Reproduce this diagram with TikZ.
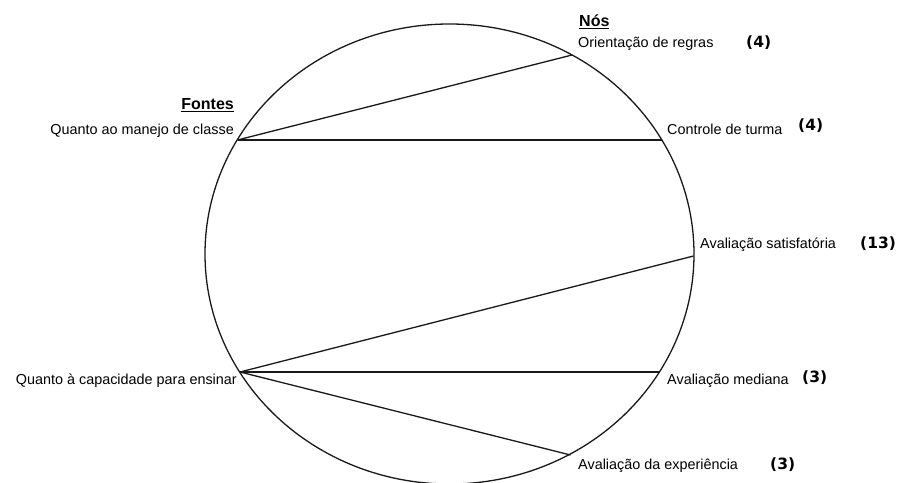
\documentclass[tikz,border=0pt]{standalone}
\usepackage{fontspec}
\setmainfont{Liberation Sans}
\newfontfamily\numfont{DejaVu Sans}
\begin{document}
\begin{tikzpicture}[x=1pt,y=-1pt,
  edge/.style={line width=1.3pt, draw=black!90},
  lbl/.style={inner sep=0pt, font=\fontsize{14.4}{17}\selectfont},
  head/.style={inner sep=0pt, font=\fontsize{16}{19}\selectfont\bfseries},
  cnt/.style={inner sep=0pt, font=\fontsize{15.5}{18}\selectfont\numfont\bfseries}]
\useasboundingbox (0,0) rectangle (904,482);
\begin{scope}
\clip (0,0) rectangle (904,482);
\draw[edge] (449.5,254) ellipse [x radius=244.5pt, y radius=230pt];
\end{scope}
% end points on the ellipse
\coordinate (s1) at (237.5,140);
\coordinate (s2) at (240,372);
\coordinate (n1) at (572,55);
\coordinate (n2) at (661.5,140);
\coordinate (n3) at (693.5,256);
\coordinate (n4) at (659.5,372);
\coordinate (n5) at (570.5,455);
\draw[edge] (s1) -- (n1);
\draw[edge] (s1) -- (n2);
\draw[edge] (s2) -- (n3);
\draw[edge] (s2) -- (n4);
\draw[edge] (s2) -- (n5);
% headings
\node[head, anchor=west] (hn) at (579,22) {\underline{Nós}};
\node[head, anchor=east] (hf) at (234,105) {\underline{Fontes}};
% source labels
\node[lbl, anchor=east] (f1) at (234,131) {Quanto ao manejo de classe};
\node[lbl, anchor=east] (f2) at (237,381) {Quanto à capacidade para ensinar};
% node labels
\node[lbl, anchor=west] (l1) at (578,44) {Orientação de regras};
\node[lbl, anchor=west] (l2) at (667,129) {Controle de turma};
\node[lbl, anchor=west] (l3) at (700,245) {Avaliação satisfatória};
\node[lbl, anchor=west] (l4) at (667,381) {Avaliação mediana};
\node[lbl, anchor=west] (l5) at (578,466) {Avaliação da experiência};
% counts
\node[cnt, anchor=west] (c1) at (746,43) {(4)};
\node[cnt, anchor=west] (c2) at (798,126) {(4)};
\node[cnt, anchor=west] (c3) at (860,244) {(13)};
\node[cnt, anchor=west] (c4) at (802,378) {(3)};
\node[cnt, anchor=west] (c5) at (770,465) {(3)};
\end{tikzpicture}
\end{document}
